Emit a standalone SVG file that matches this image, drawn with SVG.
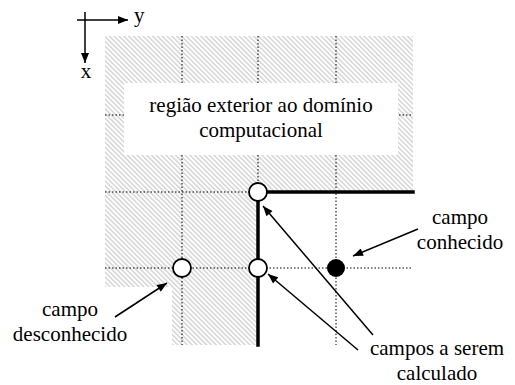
<svg xmlns="http://www.w3.org/2000/svg" width="515" height="385" viewBox="0 0 515 385">
<style>
.grid{stroke:#000;stroke-width:1;stroke-dasharray:1.5 2;fill:none}
.thick{stroke:#000;stroke-width:3.5;fill:none;stroke-linecap:square}
.arr{stroke:#000;stroke-width:1.5;fill:none;marker-end:url(#ah)}
.node{fill:#fff;stroke:#000;stroke-width:1.8}
.t{font-size:21px;fill:#000;text-anchor:middle}
</style>
<defs>
<pattern id="hatch" width="3.4" height="3.4" patternUnits="userSpaceOnUse" patternTransform="rotate(-45)">
<rect width="3.4" height="3.4" fill="#fff"/>
<line x1="0.8" y1="0" x2="0.8" y2="3.4" stroke="#cfcfcf" stroke-width="1.3"/>
</pattern>
<marker id="ah" viewBox="0 0 10 8" refX="10" refY="4" markerWidth="11" markerHeight="8" markerUnits="userSpaceOnUse" orient="auto">
<path d="M0,0 L10,4 L0,8 Z" fill="#000"/>
</marker>
</defs>
<g id="hatched-region">
<path d="M105,36 H413 V192 H258 V345 H172 V287 H105 Z" fill="url(#hatch)"/>
</g>
<g id="grid">
<line class="grid" x1="182" y1="36" x2="182" y2="345"/>
<line class="grid" x1="258" y1="36" x2="258" y2="192"/>
<line class="grid" x1="336" y1="36" x2="336" y2="345"/>
<line class="grid" x1="105" y1="115" x2="413" y2="115"/>
<line class="grid" x1="105" y1="192" x2="258" y2="192"/>
<line class="grid" x1="105" y1="268" x2="413" y2="268"/>
</g>
<g font-family="'Liberation Serif', 'Times New Roman', 'DejaVu Serif', serif">
<g id="label-box">
<rect x="124" y="83" width="274" height="72" fill="#fff"/>
<text class="t" x="261" y="112">região exterior ao domínio</text>
<text class="t" x="261" y="137">computacional</text>
</g>
<g id="boundary">
<path class="thick" d="M413,192 H258 V345"/>
</g>
<g id="axes">
<line x1="77" y1="20" x2="128" y2="20" stroke="#000" stroke-width="1.5" marker-end="url(#ah)"/>
<line x1="85" y1="12" x2="85" y2="63" stroke="#000" stroke-width="1.5" marker-end="url(#ah)"/>
<text x="134" y="22" font-size="21">y</text>
<text x="86" y="78" class="t">x</text>
</g>
<g id="connectors">
<line class="arr" x1="418" y1="229" x2="353" y2="256"/>
<line class="arr" x1="115" y1="317" x2="167" y2="283"/>
<line class="arr" x1="373" y1="335" x2="263" y2="206"/>
<line class="arr" x1="358" y1="350" x2="268" y2="274"/>
</g>
<g id="node-top"><circle class="node" cx="258" cy="192" r="9"/></g>
<g id="node-mid"><circle class="node" cx="258" cy="268" r="9"/></g>
<g id="node-left"><circle class="node" cx="182" cy="268" r="9"/></g>
<g id="node-known"><circle cx="336" cy="268" r="9" fill="#000"/></g>
<g id="label-known">
<text class="t" x="460" y="224">campo</text>
<text class="t" x="460" y="249">conhecido</text>
</g>
<g id="label-unknown">
<text class="t" x="70" y="316">campo</text>
<text class="t" x="70" y="341">desconhecido</text>
</g>
<g id="label-computed">
<text class="t" x="437" y="355">campos a serem</text>
<text class="t" x="437" y="380">calculado</text>
</g>
</g>
</svg>
